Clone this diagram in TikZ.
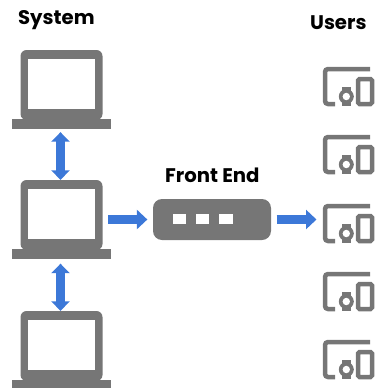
\documentclass[tikz,border=0pt]{standalone}
\usepackage{fontspec}
\setmainfont{Poppins}
\usetikzlibrary{arrows.meta,positioning}
\definecolor{boxgray}{HTML}{767676}
\definecolor{flowblue}{HTML}{3C78D8}
\def\px{0.5mm}
\tikzset{
  title/.style={font=\fontsize{28}{30}\selectfont\bfseries,inner sep=0pt,anchor=base west},
  lid/.style={fill=boxgray,rounded corners=6*\px,minimum width=82*\px,minimum height=70*\px,inner sep=0pt},
  screen/.style={fill=white,minimum width=67*\px,minimum height=49.5*\px,inner sep=0pt},
  stand/.style={fill=boxgray,minimum width=99*\px,minimum height=9.5*\px,inner sep=0pt},
  light/.style={fill=white,minimum width=13.5*\px,minimum height=10.5*\px,inner sep=0pt},
  flow/.style={flowblue,line width=9*\px,-{Triangle[length=10.5*\px,width=19*\px]}},
  twoway/.style={flowblue,line width=9.5*\px,{Triangle[length=9.5*\px,width=18*\px]}-{Triangle[length=9.5*\px,width=18*\px]}},
  device/.style={boxgray,line width=4.5*\px}
}
\begin{document}
\begin{tikzpicture}[x=\px,y=-\px]
  % Window
  \useasboundingbox (0,0) rectangle (378,388);

  % Headings
  \node[title] (system) at (18,24) {System};
  \node[title] (users) at (310,29.5) {Users};
  \node[title] (frontlabel) at (165,182.5) {Front End};

  % Laptops
  \foreach \n/\y in {A/50,B/180,C/311}{
    \node[lid] (lid\n) at (61.5,\y+35) {};
    \node[screen] (screen\n) at (61.5,\y+34) {};
    \node[stand] (stand\n) at (61.5,\y+73.8) {};
  }

  % Front end box
  \node[fill=boxgray,rounded corners=9*\px,minimum width=118*\px,minimum height=41*\px,inner sep=0pt]
    (front) at (212,219.5) {};
  \node[light] (lightA) at (179.3,219.2) {};
  \node[light,right=9.5*\px of lightA] (lightB) {};
  \node[light,right=9.5*\px of lightB] (lightC) {};

  % User devices
  \foreach \n/\y in {A/67,B/135,C/204,D/272,E/340}{
    \begin{scope}[shift={(323,\y)}]
      \coordinate (dev\n) at (0,15);
      \draw[device,rounded corners=3*\px] (47,2) -- (2,2) -- (2,37) -- (12,37);
      \draw[device,rounded corners=1.5*\px] (35,12) rectangle (49,37);
      \fill[boxgray] (18.5,20) rectangle (28,39);
      \fill[boxgray] (23.3,29.5) circle[radius=7.5];
      \fill[white] (23.3,29.5) circle[radius=3.7];
    \end{scope}
  }

  % Flows
  \draw[twoway,shorten <=3.5*\px] ([xshift=-1*\px]standA.south) -- ([xshift=-1*\px]lidB.north);
  \draw[twoway,shorten <=5*\px] ([xshift=-1*\px]standB.south) -- ([xshift=-1*\px]lidC.north);
  \draw[flow,shorten <=5.5*\px,shorten >=5.5*\px] (lidB.east |- front.west) -- (front.west);
  \draw[flow,shorten <=5.5*\px,shorten >=6.5*\px] (front.east) -- (front.east -| devC);
\end{tikzpicture}
\end{document}
